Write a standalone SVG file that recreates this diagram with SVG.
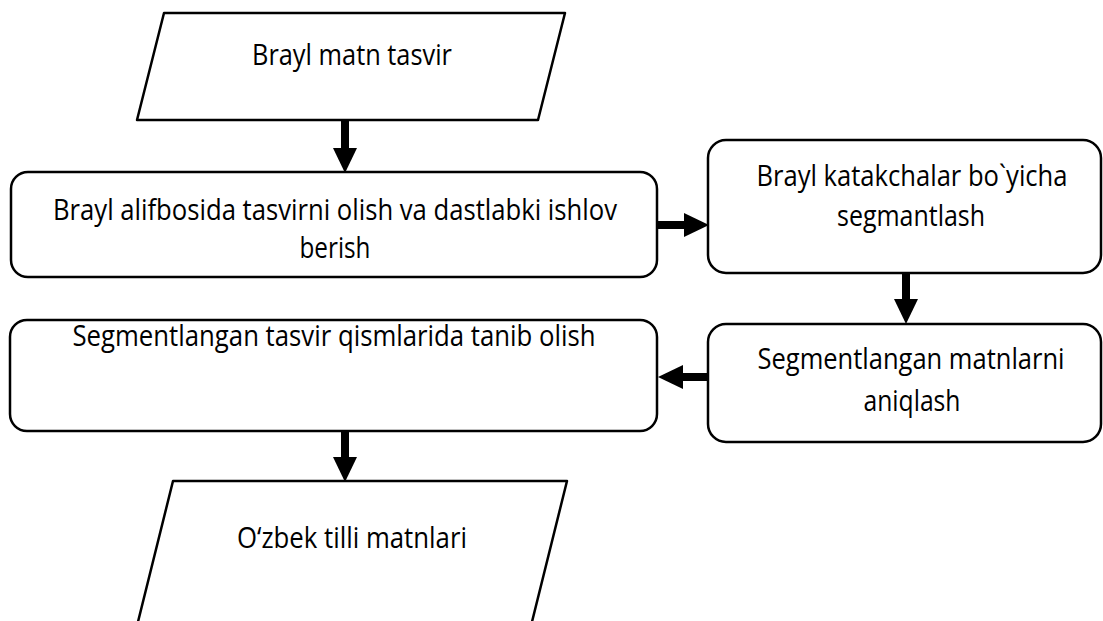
<svg xmlns="http://www.w3.org/2000/svg" width="1103" height="621" viewBox="0 0 1103 621">
<style>
.box{fill:#fff;stroke:#000;stroke-width:2.5;stroke-linejoin:round}
.lbl{font-family:"Open Sans","Noto Sans","Liberation Sans",sans-serif;font-size:28.5px;fill:#000;text-anchor:middle}
.arr{stroke:#000;stroke-width:8;fill:none}
</style>
<defs>
<marker id="ah" markerUnits="userSpaceOnUse" markerWidth="26" markerHeight="26" refX="0" refY="12" orient="auto">
<path d="M0,0 L25,12 L0,24 Z" fill="#000"/>
</marker>
</defs>
<rect width="1103" height="621" fill="#fff"/>
<g id="connectors">
<line class="arr" x1="345" y1="120" x2="345" y2="148" marker-end="url(#ah)"/>
<line class="arr" x1="657" y1="225" x2="684" y2="225" marker-end="url(#ah)"/>
<line class="arr" x1="906" y1="273" x2="906" y2="299" marker-end="url(#ah)"/>
<line class="arr" x1="708" y1="377" x2="683" y2="377" marker-end="url(#ah)"/>
<line class="arr" x1="345" y1="431" x2="345" y2="457" marker-end="url(#ah)"/>
</g>
<g id="n1">
<polygon class="box" points="164,13 565,13 538,120 137,120"/>
<text class="lbl" x="352" y="65" textLength="200" lengthAdjust="spacingAndGlyphs">Brayl matn tasvir</text>
</g>
<g id="n2">
<rect class="box" x="11" y="172" width="646" height="105" rx="17"/>
<text class="lbl" x="335" y="220" textLength="564" lengthAdjust="spacingAndGlyphs">Brayl alifbosida tasvirni olish va dastlabki ishlov</text>
<text class="lbl" x="335" y="258" textLength="71" lengthAdjust="spacingAndGlyphs">berish</text>
</g>
<g id="n3">
<rect class="box" x="708" y="140" width="393" height="133" rx="18"/>
<text class="lbl" x="912" y="186" textLength="311" lengthAdjust="spacingAndGlyphs">Brayl katakchalar bo`yicha</text>
<text class="lbl" x="911" y="226" textLength="148" lengthAdjust="spacingAndGlyphs">segmantlash</text>
</g>
<g id="n4">
<rect class="box" x="708" y="324" width="393" height="118" rx="18"/>
<text class="lbl" x="911" y="369" textLength="307" lengthAdjust="spacingAndGlyphs">Segmentlangan matnlarni</text>
<text class="lbl" x="912" y="411" textLength="97" lengthAdjust="spacingAndGlyphs">aniqlash</text>
</g>
<g id="n5">
<rect class="box" x="10" y="320" width="647" height="111" rx="17"/>
<text class="lbl" x="334" y="346" textLength="523" lengthAdjust="spacingAndGlyphs">Segmentlangan tasvir qismlarida tanib olish</text>
</g>
<g id="n6">
<polygon class="box" points="173,481 567,481 525,650 131,650"/>
<text class="lbl" x="352" y="548" textLength="230" lengthAdjust="spacingAndGlyphs">O‘zbek tilli matnlari</text>
</g>
</svg>
